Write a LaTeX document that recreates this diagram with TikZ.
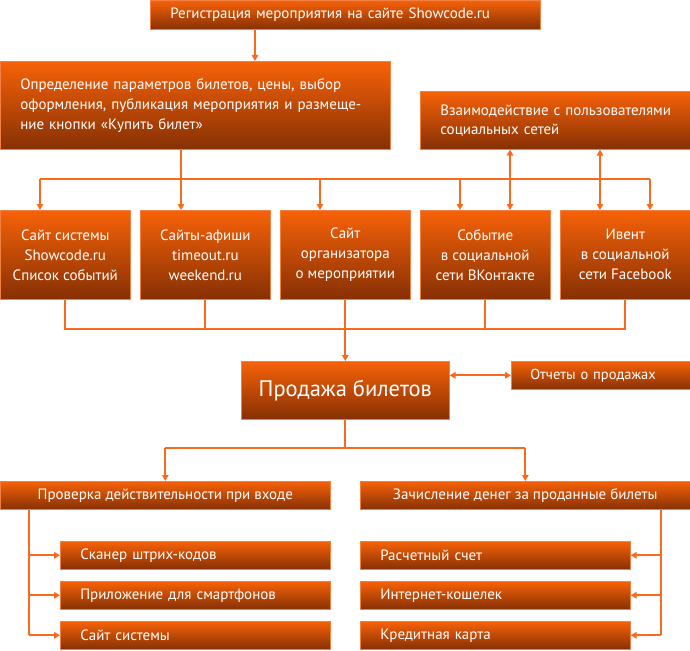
\documentclass[tikz,border=0pt]{standalone}
\usepackage{fontspec}
\setmainfont{PT Sans}
\usetikzlibrary{arrows.meta,calc}
\definecolor{ortop}{RGB}{247,98,8}
\definecolor{orbot}{RGB}{134,48,4}
\definecolor{ln}{RGB}{248,106,30}
\definecolor{edge}{RGB}{242,128,66}
\begin{document}
\begin{tikzpicture}[x=1pt,y=-1pt,
 box/.style={draw=edge, line width=0.6pt, top color=ortop, bottom color=orbot, anchor=north west, inner sep=0pt, text=white, font=\fontsize{15}{20}\selectfont, align=center},
 conn/.style={draw=ln, line width=1.8pt},
 arr/.style={conn, -{Triangle[length=6pt,width=6.5pt]}},
 dbl/.style={conn, {Triangle[length=6pt,width=6.5pt]}-{Triangle[length=6pt,width=6.5pt]}}]
\useasboundingbox (0,0) rectangle (690,650);
% boxes
\node[box, minimum height=29pt, text width=350pt, inner xsep=20pt, align=left] (reg) at (150,0) {Регистрация мероприятия на сайте Showcode.ru};
\node[box, minimum height=88pt, text width=350pt, inner xsep=20pt, align=left] (def) at (0,61) {Определение параметров билетов, цены, выбор\\оформления, публикация мероприятия и размеще-\\ние кнопки «Купить билет»};
\node[box, minimum height=58pt, text width=250pt, inner xsep=10pt, align=left, font=\fontsize{15}{19}\selectfont] (soc) at (420,91) {\hspace*{10pt}Взаимодействие с пользователями\\\hspace*{10pt}социальных сетей};
\node[box, minimum width=130pt, minimum height=89pt] (b1) at (0,210) {Сайт системы\\Showcode.ru\\Список событий};
\node[box, minimum width=130pt, minimum height=89pt] (b2) at (140,210) {Сайты-афиши\\timeout.ru\\weekend.ru};
\node[box, minimum width=130pt, minimum height=89pt] (b3) at (280,210) {Сайт\\организатора\\о мероприятии};
\node[box, minimum width=130pt, minimum height=89pt] (b4) at (420,210) {Событие\\в социальной\\сети ВКонтакте};
\node[box, minimum width=130pt, minimum height=89pt] (b5) at (560,210) {Ивент\\в социальной\\сети Facebook};
\node[box, minimum width=208pt, minimum height=58pt, font=\fontsize{22.5}{26}\selectfont] (sale) at (241,361) {Продажа билетов};
\node[box, minimum height=28pt, text width=141pt, inner xsep=19pt, align=left, font=\fontsize{14.5}{20}\selectfont] (rep) at (511,361) {Отчеты о продажах};
\node[box, minimum width=330pt, minimum height=28pt] (chk) at (0,481) {Проверка действительности при входе};
\node[box, minimum width=330pt, minimum height=28pt] (mon) at (360,481) {Зачисление денег за проданные билеты};
\node[box, minimum height=28pt, text width=230pt, inner xsep=20pt, align=left] (s1) at (60,541) {Сканер штрих-кодов};
\node[box, minimum height=28pt, text width=230pt, inner xsep=20pt, align=left] (s2) at (60,581) {Приложение для смартфонов};
\node[box, minimum height=28pt, text width=230pt, inner xsep=20pt, align=left] (s3) at (60,621) {Сайт системы};
\node[box, minimum height=28pt, text width=230pt, inner xsep=20pt, align=left] (r1) at (360,541) {Расчетный счет};
\node[box, minimum height=28pt, text width=230pt, inner xsep=20pt, align=left] (r2) at (360,581) {Интернет-кошелек};
\node[box, minimum height=28pt, text width=230pt, inner xsep=20pt, align=left] (r3) at (360,621) {Кредитная карта};
% top connectors
\draw[arr] ([xshift=105pt]reg.south west) -- ([xshift=255pt]def.north west);
\coordinate (t2) at ([xshift=41pt]b2.north west);
\draw[arr] (t2 |- def.south) -- (t2);
\coordinate (busL) at (40,179);
\coordinate (busR) at (650,179);
\draw[conn] (busL) -- (busR);
\coordinate (t1) at ([xshift=40pt]b1.north west);
\coordinate (t3) at ([xshift=40pt]b3.north west);
\coordinate (t4a) at ([xshift=40pt]b4.north west);
\coordinate (t4b) at ([xshift=90pt]b4.north west);
\coordinate (t5a) at ([xshift=40pt]b5.north west);
\coordinate (t5b) at ([xshift=90pt]b5.north west);
\draw[arr] (t1 |- busL) -- (t1);
\draw[arr] (t3 |- busL) -- (t3);
\draw[arr] (t4a |- busL) -- (t4a);
\draw[arr] (t5b |- busL) -- (t5b);
\draw[dbl] (t4b |- soc.south) -- (t4b);
\draw[dbl] (t5a |- soc.south) -- (t5a);
% bottom of row
\coordinate (bb) at (0,329);
\draw[conn] (b1.south) -- (b1.south |- bb) -- (b5.south |- bb) -- (b5.south);
\draw[conn] (b2.south) -- (b2.south |- bb);
\draw[conn] (b4.south) -- (b4.south |- bb);
\draw[arr] (b3.south) -- (sale.north);
\draw[dbl] (sale.east |- rep.west) -- (rep.west);
% sale down
\coordinate (sb) at (0,448);
\draw[conn] (sale.south) -- (sale.south |- sb);
\draw[conn] (chk.north |- sb) -- (mon.north |- sb);
\draw[arr] (chk.north |- sb) -- (chk.north);
\draw[arr] (mon.north |- sb) -- (mon.north);
% left and right branches
\coordinate (lv) at (29,0);
\coordinate (rv) at (661,0);
\draw[conn] (lv |- chk.south) -- (lv |- s3.west);
\draw[arr] (lv |- s1.west) -- (s1.west);
\draw[arr] (lv |- s2.west) -- (s2.west);
\draw[arr] (lv |- s3.west) -- (s3.west);
\draw[conn] (rv |- mon.south) -- (rv |- r3.east);
\draw[arr] (rv |- r1.east) -- (r1.east);
\draw[arr] (rv |- r2.east) -- (r2.east);
\draw[arr] (rv |- r3.east) -- (r3.east);
\end{tikzpicture}
\end{document}
